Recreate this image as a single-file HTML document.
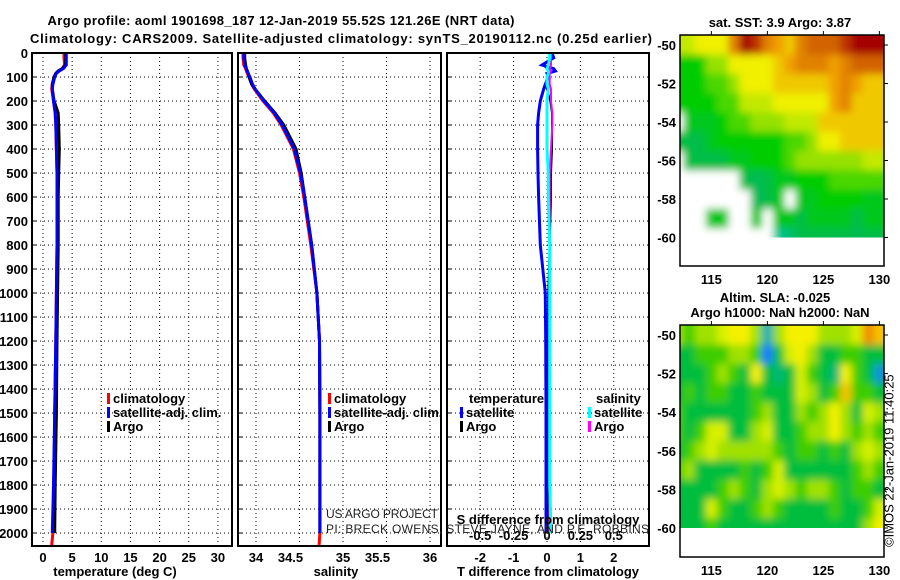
<!DOCTYPE html>
<html><head><meta charset="utf-8"><style>
html,body{margin:0;padding:0;background:#fff;}
svg{display:block;font-family:"Liberation Sans",sans-serif;}
.b{font-weight:bold;font-size:13px;}
</style></head><body>
<svg id="fig" width="900" height="580" viewBox="0 0 900 580">
<text class="b" x="281" y="25" text-anchor="middle" font-size="14" textLength="467">Argo profile: aoml 1901698_187 12-Jan-2019 55.52S 121.26E (NRT data)</text>
<text class="b" x="341" y="43" text-anchor="middle" font-size="14" textLength="622">Climatology: CARS2009. Satellite-adjusted climatology: synTS_20190112.nc (0.25d earlier)</text>
<g id="grids"></g>
<g id="series"></g>
<g id="frames"></g>
<g id="labels"></g>
<g id="legends"></g>
<g id="maps"></g>
<text x="326" y="518" font-size="12" fill="#222" textLength="112">US ARGO PROJECT</text>
<text x="326" y="533" font-size="12" fill="#222" textLength="323">PI: BRECK OWENS, STEVE JAYNE, AND P.E. ROBBINS</text>
<text class="b" x="548" y="524" text-anchor="middle">S difference from climatology</text>
<text x="890" y="547" font-size="13" transform="rotate(-90 890 547)" dominant-baseline="middle">©IMOS 22-Jan-2019 11:40:25</text>
</svg>
<script>
// ---------- profile data ----------
const depth = [0,20,50,65,75,85,100,130,150,200,250,300,400,500,600,800,1000,1200,1500,1800,2000];
const climDepth = [0,20,50,65,75,85,100,130,150,200,250,300,400,500,600,800,1000,1200,1500,1800,2000,2050];
const argoT = [3.9,3.9,3.85,3.3,2.6,2.2,1.9,1.6,1.6,1.9,2.6,2.7,2.8,2.7,2.6,2.6,2.5,2.4,2.3,2.1,2.0];
const satT  = [4.0,4.0,4.0,3.5,2.8,2.3,2.0,1.7,1.6,1.8,2.1,2.2,2.3,2.4,2.4,2.4,2.3,2.2,2.0,1.8,1.6];
const climT = [3.6,3.6,3.7,3.3,2.7,2.2,1.9,1.6,1.5,1.8,2.1,2.2,2.3,2.4,2.4,2.4,2.3,2.2,2.0,1.9,1.7,1.5];
const argoS = [33.87,33.87,33.88,33.89,33.90,33.91,33.92,33.95,33.99,34.10,34.22,34.32,34.46,34.52,34.56,34.64,34.70,34.73,34.735,34.735,34.735];
const satS  = [33.86,33.86,33.87,33.89,33.90,33.91,33.93,33.96,33.99,34.09,34.21,34.30,34.44,34.51,34.56,34.64,34.70,34.73,34.735,34.735,34.735];
const climS = [33.85,33.85,33.86,33.88,33.89,33.90,33.92,33.95,33.98,34.08,34.20,34.29,34.43,34.50,34.55,34.63,34.70,34.73,34.735,34.735,34.735,34.725];
const tDiffSat  = [0.15,0.2,-0.15,0.2,0.25,0,0.05,-0.05,-0.1,-0.2,-0.25,-0.28,-0.28,-0.27,-0.25,-0.2,-0.05,-0.04,-0.03,-0.03,-0.03];
const tDiffArgo = [0.1,0.15,-0.1,0,0.1,0,0,-0.05,0,0.1,0.15,0.15,0.15,0.12,0.12,0.08,0.04,0.03,0.02,0.02,0.02];
const sDiffSat  = [0.02,0.02,0.01,0,0.01,0.01,0,0,0.01,0,0,0,0,0.01,0.01,0.02,0.02,0.02,0.02,0.02,0.03];
const sDiffArgo = [0.03,0.03,0.03,0.02,0.03,0.02,0.02,0.02,0.03,0.03,0.04,0.04,0.03,0.02,0.02,0.02,0.02,0.02,0.02,0.02,0.02];
const depthTicks = [0,100,200,300,400,500,600,700,800,900,1000,1100,1200,1300,1400,1500,1600,1700,1800,1900,2000];
const tempTicks = [0,5,10,15,20,25,30];
const salTicks = [34,34.5,35,35.5,36];
const tDiffTicks = [-2,-1,0,1,2];
const sDiffTicks = [-0.5,-0.25,0,0.25,0.5];
const sDiffTickLabels = ["-0.5","-0.25","0","0.25","0.5"];

// ---------- map data (lon 112..130, rows lat -50..-60) ----------
const mapLons = [112,113,114,115,116,117,118,119,120,121,122,123,124,125,126,127,128,129,130];
const mapLats = [-50,-51,-52,-53,-54,-55,-56,-57,-58,-59,-60];
const N = null;
const sstGrid = [
[3.5,3.5,4,4,4,5.5,7,6.5,5.5,5,4.5,5.5,6,6,6,6.5,7,7,7],
[2,2,2,3,3,4,4,4,4,4.5,5,5.5,5.5,5.5,5,5.5,6,6,6],
[2,2,2,2.5,2.5,3,4,4,4,4.5,4.5,4.5,4.5,4.5,5,5.5,5,4.5,4.5],
[2,2,2,2,2.5,2.5,3.5,3.5,3.5,4,4,4,4,4,5,5.5,4.5,4.5,4.5],
[N,1.8,1.8,1.8,2,2.5,2.5,3,3,3,3.5,3.5,3.5,4.5,4.5,4.5,4.5,4.5,4.5],
[1.5,1.5,1.5,1.8,2,2,2,2,2,2,2.5,2.5,3,4,4,4.5,4.5,4.5,4.5],
[N,1.5,1.5,1.5,1.5,1.8,1.8,2,2,2,2.5,3,3,3,3,3,3,3.5,3.5],
[N,N,N,N,N,N,1.5,1.2,1.5,1.8,1.8,2,2,2,2.5,2.5,2.5,2.5,2.5],
[N,N,N,N,N,N,N,1,1.5,1.8,N,1.8,1.8,2,2,2,2,1.8,1.8],
[N,N,N,1.8,1.8,N,N,1.8,N,1.8,1.8,1.5,1.8,1.8,1.8,1.8,1.5,1.8,1.8],
[N,N,N,N,N,N,N,N,N,0.5,0.8,1.5,1.5,1.5,1.5,1.5,1.2,1.5,1.5]];
const slaGrid = [
[1,0.5,1,1,1.5,2,2,1,-1,1,2,2,2,1,1,1,1.5,3,2.5],
[0,0,0.5,0.5,0.5,1,1,0.5,-2,0,1.5,2,1,0,0,0.5,0.5,0,0],
[0,0,0,0.5,1,0.5,0,2,0,-0.5,0,1.5,0.5,0,-0.5,2,0.5,0,-1.5],
[0,0.5,0,0.5,0.5,0,0,0.5,0,0,0,1.5,1,0,0.5,2.5,0.5,0.5,0],
[0.5,0,0,0,0,0,0,0.5,1,0,0,1,0.5,1,2,1,0,1.5,1],
[0.5,0,0.5,1.5,1.5,0,0,1,1.5,0,0,0.5,1,1,2,1,0.5,1,0.5],
[0,0.5,1,1.5,1,1,1,1,1,0.5,0,0.5,0.5,0,0.5,0,1,1.5,1],
[0.5,1,0,0,0,0,0.5,0,0.5,1.5,0,0,0,0,0,0,0.5,1,0.5],
[0,0,0,0,0.5,1,0.5,0,1,1.5,1,0.5,1,1,0.5,0,0.5,0.5,0],
[0,0,0,1.5,0.5,0,0,0.5,1,0.5,0,0,0,0,0.5,0,0,0.5,1.5],
[0,0,0,0.5,0,0,0,0,0,0,0,0,0,0,0,0,0,1,2]];
const lonTicks = [115,120,125,130];
const latTicks = [-50,-52,-54,-56,-58,-60];

const NS='http://www.w3.org/2000/svg';
function mk(tag, parent, attrs){const e=document.createElementNS(NS,tag);for(const k in attrs)e.setAttribute(k,attrs[k]);parent.appendChild(e);return e;}
const yD=d=>53+d*0.24, xT=t=>43+t*5.83, xS=s=>256+(s-34)*87, xTd=v=>547+v*33.4, xSd=v=>547+v*133.6;
const panels=[{x0:32,x1:232},{x0:238,x1:441},{x0:447,x1:649}];
const TOP=53,BOT=546;
const G=document.getElementById('grids'),S=document.getElementById('series'),F=document.getElementById('frames'),L=document.getElementById('labels'),LG=document.getElementById('legends');

panels.forEach(p=>{depthTicks.forEach(d=>{if(d===0)return;const l=mk('line',G,{x1:p.x0,x2:p.x1,y1:yD(d),y2:yD(d),stroke:'#000','stroke-width':1,'stroke-dasharray':'1,3'});

});});
function vgrid(ticks,fx){ticks.forEach(t=>{const l=mk('line',G,{x1:fx(t),x2:fx(t),y1:TOP,y2:BOT,stroke:'#000','stroke-width':1,'stroke-dasharray':'1,3'});

});}
vgrid(tempTicks,xT);vgrid(salTicks,xS);vgrid(tDiffTicks,xTd);

function line(xs,ds,fx,color,w,name){const pts=xs.map((v,i)=>fx(v).toFixed(1)+','+yD(ds[i]).toFixed(1)).join(' ');
const e=mk('polyline',S,{points:pts,fill:'none',stroke:color,'stroke-width':w,'stroke-linejoin':'miter'});

}
line(climT,climDepth,xT,'#ff0000',3,'temperature-climatology-line');
line(argoT,depth,xT,'#000',3,'temperature-argo-line');
line(satT,depth,xT,'#0000ff',3,'temperature-satellite-line');
line(climS,climDepth,xS,'#ff0000',3,'salinity-climatology-line');
line(argoS,depth,xS,'#000',3,'salinity-argo-line');
line(satS,depth,xS,'#0000ff',3,'salinity-satellite-line');
line(tDiffArgo,depth,xTd,'#000',2,'t-diff-argo-line');
line(tDiffSat,depth,xTd,'#0000ff',3,'t-diff-satellite-line');
line(sDiffArgo,depth,xSd,'#ff00ff',2,'s-diff-argo-line');
line(sDiffSat,depth,xSd,'#00ffff',3,'s-diff-satellite-line');

panels.forEach(p=>{const r=mk('rect',F,{x:p.x0,y:TOP,width:p.x1-p.x0,height:BOT-TOP,fill:'none',stroke:'#000','stroke-width':2});


depthTicks.forEach(d=>{const t=mk('line',F,{x1:p.x0,x2:p.x0+5,y1:yD(d),y2:yD(d),stroke:'#000','stroke-width':1});

});});
depthTicks.forEach(d=>{const t=mk('text',L,{x:28,y:yD(d)+5,'text-anchor':'end',class:'b'});t.textContent=d;

});
function xlabels(ticks,fx,labs,off){ticks.forEach((v,i)=>{const t=mk('text',L,{x:fx(v)+(off?off(v,i):0),y:562,'text-anchor':'middle',class:'b'});t.textContent=labs?labs[i]:String(v);

});}
xlabels(tempTicks,xT,null,null);
xlabels(salTicks,xS,null,(v)=>(v%1!==0?-9:0));
xlabels(tDiffTicks,xTd,null,null);
sDiffTicks.forEach((v,i)=>{const t=mk('text',L,{x:xSd(v),y:540,'text-anchor':'middle',class:'b'});t.textContent=sDiffTickLabels[i];

});
[['temperature (deg C)',115,'temperature-axis-title'],['salinity',336,'salinity-axis-title'],['T difference from climatology',548,'t-diff-axis-title']].forEach(a=>{const t=mk('text',L,{x:a[1],y:576,'text-anchor':'middle',class:'b'});t.textContent=a[0];

});

function legend(x,items,row0){items.forEach((it,i)=>{const y=399+(i+row0)*14;
const m=mk('rect',LG,{x:x,y:y-6,width:3,height:11,fill:it[1]});


const t=mk('text',LG,{x:x+6,y:y+4,class:'b',fill:'#000'});t.textContent=it[0];

});}
legend(107,[['climatology','#ff0000'],['satellite-adj. clim.','#0000ff'],['Argo','#000']],0);
legend(328,[['climatology','#ff0000'],['satellite-adj. clim.','#0000ff'],['Argo','#000']],0);
legend(460,[['satellite','#0000ff'],['Argo','#000']],1);
legend(588,[['satellite','#00ffff'],['Argo','#ff00ff']],1);
[['temperature',469],['salinity',596]].forEach(h=>{const t=mk('text',LG,{x:h[1],y:403,class:'b'});t.textContent=h[0];

});

const M=document.getElementById('maps');
const mx0=680,mx1=884,lon0=112.2,pxLon=11.2;
const xLon=l=>mx0+(l-lon0)*pxLon;
function sstColor(v){const st=[[0,[0,208,208]],[1,[0,185,90]],[1.5,[0,190,70]],[2,[0,205,0]],[3,[150,225,0]],[4,[240,240,0]],[5,[240,160,0]],[6,[210,100,0]],[7,[165,0,0]]];return interp(st,v);}
function slaColor(v){const st=[[-2,[30,120,255]],[-1,[0,175,175]],[0,[0,190,60]],[0.5,[60,205,0]],[1,[160,225,0]],[1.5,[215,240,0]],[2,[245,240,0]],[2.5,[245,195,0]],[3,[240,140,0]]];return interp(st,v);}
function interp(st,v){if(v<=st[0][0])return rgb(st[0][1]);for(let i=1;i<st.length;i++){if(v<=st[i][0]){const a=st[i-1],b=st[i],f=(v-a[0])/(b[0]-a[0]);return rgb(a[1].map((c,k)=>c+(b[1][k]-c)*f));}}return rgb(st[st.length-1][1]);}
function rgb(c){return 'rgb('+c.map(Math.round).join(',')+')';}
function drawMap(grid,cfn,top,bot,lat50y,pxLat,blur,name,id){
  const yLat=la=>lat50y+(-50-la)*pxLat;
  const defs=mk('defs',M,{});
  const cp=mk('clipPath',defs,{id:'c'+id});mk('rect',cp,{x:mx0,y:top,width:mx1-mx0,height:yLat(-60)-top});
  const fl=mk('filter',defs,{id:'f'+id,x:'-5%',y:'-5%',width:'110%',height:'110%'});mk('feGaussianBlur',fl,{stdDeviation:blur});
  const outer=mk('g',M,{'clip-path':'url(#c'+id+')'});
  
  
  const g=mk('g',outer,{filter:'url(#f'+id+')'});
  mk('rect',g,{x:mx0-10,y:top-10,width:mx1-mx0+20,height:yLat(-60)-top+20,fill:'#fff'});
  mapLats.forEach((la,r)=>{mapLons.forEach((lo,c)=>{const v=grid[r][c];if(v===null)return;
    let x0=xLon(lo-0.5),x1=xLon(lo+0.5),y0=yLat(la+0.5),y1=yLat(la-0.5);
    if(c===0)x0-=10;if(c===mapLons.length-1)x1+=10;if(r===0)y0-=10;
    const e=mk('rect',g,{x:x0,y:y0,width:x1-x0+0.5,height:y1-y0+0.5,fill:cfn(v)});
    
    });});
  const fr=mk('rect',M,{x:mx0,y:top,width:mx1-mx0,height:bot-top,fill:'none',stroke:'#000','stroke-width':1.5});
  
  
  latTicks.forEach(la=>{const t=mk('text',M,{x:676,y:yLat(la)+5,'text-anchor':'end',class:'b'});t.textContent=la;
    
    
    mk('line',M,{x1:mx1,x2:mx1+4,y1:yLat(la),y2:yLat(la),stroke:'#000'});});
  lonTicks.forEach(lo=>{const t=mk('text',M,{x:xLon(lo),y:bot+18,'text-anchor':'middle',class:'b'});t.textContent=lo;
    
    
    mk('line',M,{x1:xLon(lo),x2:xLon(lo),y1:top,y2:top-4,stroke:'#000'});});
}
drawMap(sstGrid,sstColor,35,266,45,19.25,4,'sst-map','1');
drawMap(slaGrid,slaColor,325,557,335,19.3,4,'sla-map','2');
[['sat. SST: 3.9 Argo: 3.87',780,27,'sst-map-title'],['Altim. SLA: -0.025',775,302,'sla-map-title'],['Argo h1000: NaN h2000: NaN',780,317,'sla-map-subtitle']].forEach(a=>{const t=mk('text',M,{x:a[1],y:a[2],'text-anchor':'middle',class:'b'});t.textContent=a[0];

});
</script>
</body></html>
